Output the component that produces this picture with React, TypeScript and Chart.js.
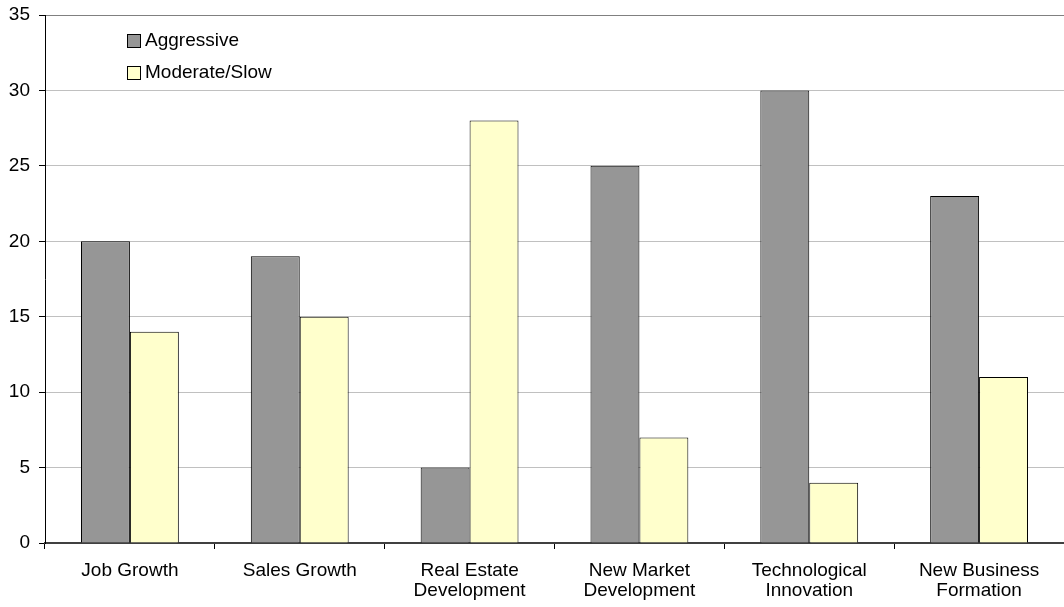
import React, { useEffect, useRef } from "react";
import { Chart, registerables } from "chart.js";

Chart.register(...registerables);

const categories: (string | string[])[] = [
  "Job Growth",
  "Sales Growth",
  ["Real Estate", "Development"],
  ["New Market", "Development"],
  ["Technological", "Innovation"],
  ["New Business", "Formation"],
];
const aggressive = [20, 19, 5, 25, 30, 23];
const moderateSlow = [14, 15, 28, 7, 4, 11];
const seriesNames = ["Aggressive", "Moderate/Slow"];

const FONT = "'Liberation Sans', Arial, sans-serif";

const insideLegend = {
  id: "insideLegend",
  afterDraw(chart: any) {
    const ctx = chart.ctx;
    const { left, top } = chart.chartArea;
    ctx.save();
    chart.data.datasets.forEach((ds: any, i: number) => {
      const x = left + 82;
      const y = top + 25 + i * 32;
      ctx.fillStyle = ds.backgroundColor;
      ctx.fillRect(x, y - 6, 14, 14);
      ctx.strokeStyle = "#000";
      ctx.lineWidth = 1;
      ctx.strokeRect(x + 0.5, y - 5.5, 13, 13);
      ctx.fillStyle = "#000";
      ctx.font = `19px ${FONT}`;
      ctx.textBaseline = "middle";
      ctx.textAlign = "left";
      ctx.fillText(ds.label, x + 18, y + 1);
    });
    ctx.restore();
  },
};

export default function App() {
  const ref = useRef<HTMLCanvasElement>(null);
  useEffect(() => {
    document.body.style.margin = "0";
    const chart = new Chart(ref.current!, {
      type: "bar",
      data: {
        labels: categories,
        datasets: [
          {
            label: seriesNames[0],
            data: aggressive,
            backgroundColor: "#969696",
            borderColor: "#000",
            borderWidth: 1,
            categoryPercentage: 0.576,
            barPercentage: 1,
          },
          {
            label: seriesNames[1],
            data: moderateSlow,
            backgroundColor: "#FFFFCC",
            borderColor: "#000",
            borderWidth: 1,
            categoryPercentage: 0.576,
            barPercentage: 1,
          },
        ],
      },
      options: {
        animation: false,
        responsive: false,
        maintainAspectRatio: false,
        layout: { padding: { top: 15, right: 0, left: 0, bottom: 0 } },
        plugins: { legend: { display: false }, tooltip: { enabled: false } },
        scales: {
          x: {
            grid: {
              offset: true,
              drawOnChartArea: false,
              drawTicks: true,
              tickLength: 6,
              color: "#000",
            },
            border: { color: "#404040", width: 2 },
            ticks: {
              color: "#000",
              font: { family: FONT, size: 19, lineHeight: 1.05 },
              maxRotation: 0,
              autoSkip: false,
              padding: 12,
            },
            afterFit: (s: any) => {
              s.height = 64;
            },
          },
          y: {
            min: 0,
            max: 35,
            ticks: {
              stepSize: 5,
              color: "#000",
              font: { family: FONT, size: 19, lineHeight: 0.6 },
              padding: 9,
            },
            grid: {
              color: (c: any) => (c.tick && c.tick.value === 35 ? "#808080" : "#c0c0c0"),
              tickColor: "#000",
              tickLength: 6,
            },
            border: { color: "#000", width: 1 },
            afterFit: (s: any) => {
              s.width = 45;
            },
          },
        },
      },
      plugins: [insideLegend],
    });
    return () => chart.destroy();
  }, []);
  return (
    <div style={{ width: 1064, height: 607 }}>
      <canvas ref={ref} width={1064} height={607} />
    </div>
  );
}
